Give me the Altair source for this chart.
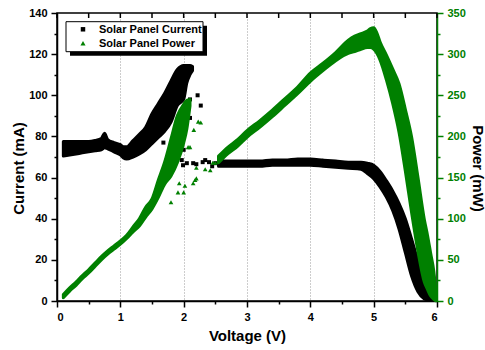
import altair as alt
import pandas as pd

# ---------------- data ----------------
# Solar panel current (mA): low-voltage branch, lower / upper edge of the point cloud
cur_v  = [0.10,0.20,0.30,0.40,0.50,0.60,0.70,0.75,0.80,0.90,1.00,1.05,1.10,1.20,1.30,1.40,1.50,1.60,1.70,1.80,1.90,2.00,2.05,2.10,2.14]
cur_lo = [70.5,71.0,71.5,72.0,72.5,73.0,73.5,74.5,74.0,72.5,71.0,69.5,69.0,70.0,71.5,73.5,76.5,79.5,82.5,87.0,95.0,98.0,106.0,110.0,112.0]
cur_hi = [77.5,77.5,77.5,77.5,77.5,78.0,79.0,81.5,78.5,77.0,76.0,75.0,75.0,78.0,81.0,84.5,91.0,96.0,101.0,107.0,112.5,114.5,114.5,114.5,114.0]
# high-voltage branch
cur2_v  = [2.55,2.80,3.00,3.20,3.40,3.60,3.80,4.00,4.20,4.40,4.60,4.80,4.90,5.00,5.10,5.20,5.30,5.40,5.50,5.60,5.70,5.80,5.85,5.90,5.94]
cur2_lo = [65.5,65.5,65.5,65.5,66.0,66.0,66.0,66.0,65.5,65.0,64.5,64.0,62.0,59.5,55.5,50.5,44.0,35.0,23.5,12.0,4.5,1.0,0.5,0.3,0.2]
cur2_hi = [68.0,68.0,68.0,68.0,68.5,68.5,69.0,69.0,68.5,68.0,67.5,67.5,67.0,66.0,63.0,58.5,53.5,47.5,40.0,30.0,19.5,9.5,5.5,2.5,0.5]
# scattered current points
cur_pts_v = [1.68,1.90,1.97,1.99,2.00,2.00,2.05,2.10,2.10,2.15,2.20,2.22,2.27,2.30,2.34,2.40,2.45,2.50,2.60,2.70]
cur_pts_i = [77,77,68.5,66,73.5,81,67,89,98,67,66.5,100,95,67.5,68.5,67.5,65.5,67,68,67.5]

# Solar panel power (mW)
pow_v  = [0.10,0.20,0.30,0.40,0.50,0.60,0.70,0.80,0.90,1.00,1.10,1.20,1.30,1.40,1.50,1.60,1.70,1.80,1.90,2.00,2.05,2.10]
pow_lo = [4,12,19,27,34,42,50,57,63,69,76,84,91,102,112,126,142,152,168,192,209,237]
pow_hi = [8,16,23,31,38,46,54,61,67,73,80,90,100,114,124,147,169,197,225,239,244,245]
pow2_v  = [2.55,2.70,2.85,3.00,3.20,3.40,3.60,3.80,4.00,4.20,4.40,4.60,4.70,4.80,4.90,4.95,5.00,5.05,5.10,5.20,5.30,5.40,5.50,5.60,5.70,5.80,5.85,5.90,5.95,5.975,5.99]
pow2_lo = [168,179,188,199,211,224,238,252,267,280,292,301,303,306,308,308,306,301,293,269,240,205,158,107,60,23,14,6,2,0.5,0.3]
pow2_hi = [176,187,196,207,219,232,246,260,277,289,302,317,322,325,328,331,332,326,315,299,282,264,233,199,150,99,80,58,36,18,3]
pow_pts_v = [1.80,1.91,1.93,2.00,2.02,2.07,2.10,2.15,2.16,2.18,2.20,2.20,2.23,2.27,2.34,2.42,2.46,2.50]
pow_pts_p = [120,132,143,132,140,187,187,143,208,147,162,149,218,217,160,159,168,168]

# axis ticks
x_ticks = [0, 0.5, 1, 1.5, 2, 2.5, 3, 3.5, 4, 4.5, 5, 5.5, 6]
cur_ticks = list(range(0, 141, 10))
pow_ticks = list(range(0, 351, 25))
legend_labels = ["Solar Panel Current", "Solar Panel Power"]

GREEN = "#008000"
FONT = "Liberation Sans"

# ---------------- frames ----------------
cur_band1 = pd.DataFrame({"V": cur_v, "lo": cur_lo, "hi": cur_hi})
cur_band2 = pd.DataFrame({"V": cur2_v, "lo": cur2_lo, "hi": cur2_hi})
cur_pts = pd.DataFrame({"V": cur_pts_v, "I": cur_pts_i})
pow_band1 = pd.DataFrame({"V": pow_v, "lo": pow_lo, "hi": pow_hi})
pow_band2 = pd.DataFrame({"V": pow2_v, "lo": pow2_lo, "hi": pow2_hi})
pow_pts = pd.DataFrame({"V": pow_pts_v, "P": pow_pts_p})

xscale = alt.Scale(domain=[0, 6], nice=False, zero=False)
x_axis = alt.Axis(
    values=x_ticks, title="Voltage (V)",
    labelExpr="datum.value % 1 === 0 ? format(datum.value, 'd') : ''",
    tickSize={"condition": {"test": "datum.value % 1 === 0", "value": 6}, "value": 3},
    grid=True, gridColor="#9a9a9a", gridDash=[1, 2], gridWidth=1,
    gridOpacity={"condition": {"test": "datum.value % 1 === 0 && datum.value > 0 && datum.value < 6", "value": 1}, "value": 0},
    labelPadding=4, titleY=39, titleBaseline="alphabetic")
X = alt.X("V:Q", scale=xscale, axis=x_axis)

cur_scale = alt.Scale(domain=[0, 140], nice=False)
cur_axis = alt.Axis(
    values=cur_ticks, title="Current (mA)", orient="left",
    labelExpr="datum.value % 20 === 0 ? format(datum.value, 'd') : ''",
    tickSize={"condition": {"test": "datum.value % 20 === 0", "value": 6}, "value": 3},
    labelPadding=4, grid=False,
    titleAngle=-90, titleX=-34, titleY=155, titleBaseline="alphabetic", titleAlign="center")

pow_scale = alt.Scale(domain=[0, 350], nice=False)
pow_axis = alt.Axis(
    values=pow_ticks, title="Power (mW)", orient="right",
    labelExpr="datum.value % 50 === 0 ? format(datum.value, 'd') : ''",
    tickSize={"condition": {"test": "datum.value % 50 === 0", "value": 6}, "value": 3},
    labelPadding=4, grid=False, labelColor=GREEN, domainColor=GREEN, tickColor=GREEN,
    titleColor="black",
    titleAngle=90, titleX=35, titleY=155, titleBaseline="alphabetic", titleAlign="center")


def band(df, color, scale, axis):
    return alt.Chart(df).mark_area(color=color, stroke=color, strokeWidth=3, strokeJoin="round",
                                   opacity=1, orient="vertical", interpolate="monotone").encode(
        x=X,
        y=alt.Y("lo:Q", scale=scale, axis=axis),
        y2=alt.Y2("hi:Q"))


cur_layer = alt.layer(
    band(cur_band1, "black", cur_scale, cur_axis),
    band(cur_band2, "black", cur_scale, cur_axis),
    alt.Chart(cur_pts).mark_point(shape="square", filled=True, color="black", size=16, opacity=1).encode(
        x=X, y=alt.Y("I:Q", scale=cur_scale, axis=cur_axis)),
)

pow_layer = alt.layer(
    band(pow_band1, GREEN, pow_scale, pow_axis),
    band(pow_band2, GREEN, pow_scale, pow_axis),
    alt.Chart(pow_pts).mark_point(shape="triangle-up", filled=True, color=GREEN, size=22, opacity=1).encode(
        x=X, y=alt.Y("P:Q", scale=pow_scale, axis=pow_axis)),
)

# top mirror ticks (inward)
top_df = pd.DataFrame({"V": x_ticks})
top_ticks = alt.Chart(top_df).mark_rule(color="black", strokeWidth=1.5).encode(
    x=X, y=alt.value(0), y2=alt.value(5))

# legend
one = pd.DataFrame({"k": [0]})
shadow = alt.Chart(one).mark_rect(color="black").encode(
    x=alt.value(13), x2=alt.value(150), y=alt.value(12.7), y2=alt.value(42.7))
box = alt.Chart(one).mark_rect(fill="white", stroke="black", strokeWidth=1).encode(
    x=alt.value(9), x2=alt.value(146), y=alt.value(8.7), y2=alt.value(38.7))
sym1 = alt.Chart(one).mark_point(shape="square", filled=True, color="black", size=20, opacity=1).encode(
    x=alt.value(26), y=alt.value(16.3))
sym2 = alt.Chart(one).mark_point(shape="triangle-up", filled=True, color=GREEN, size=26, opacity=1).encode(
    x=alt.value(26), y=alt.value(30.3))
txt1 = alt.Chart(one).mark_text(text=legend_labels[0], align="left", baseline="middle", font=FONT,
                                fontWeight="bold", fontSize=11, color="black").encode(
    x=alt.value(42), y=alt.value(16.5))
txt2 = alt.Chart(one).mark_text(text=legend_labels[1], align="left", baseline="middle", font=FONT,
                                fontWeight="bold", fontSize=11, color="black").encode(
    x=alt.value(42), y=alt.value(30.5))

chart = alt.layer(
    cur_layer, pow_layer, top_ticks, shadow, box, sym1, sym2, txt1, txt2
).resolve_scale(y="independent").properties(
    width=380, height=288,
    padding={"left": 57, "top": 13, "right": 48, "bottom": 49},
    autosize=alt.AutoSizeParams(type="none"),
    background="white",
).configure_view(
    stroke="black", strokeWidth=1.5
).configure_axis(
    labelFont=FONT, labelFontSize=11, labelFontWeight="bold", labelColor="black",
    titleFont=FONT, titleFontSize=15, titleFontWeight="bold", titleColor="black",
    domainColor="black", domainWidth=1.5, tickColor="black", tickWidth=1.5,
)

chart.save("out.html", embed_options={"renderer": "svg", "actions": False})
